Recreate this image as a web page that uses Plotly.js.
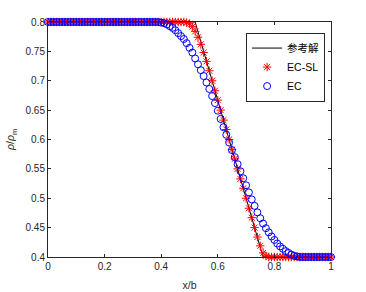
<!DOCTYPE html>
<html>
<head>
<meta charset="utf-8">
<script src="https://cdn.plot.ly/plotly-3.0.1.min.js"></script>
<style>html,body{margin:0;padding:0;background:#fff;}#chart{width:366px;height:292px;}</style>
</head>
<body>
<div id="chart"></div>
<script>
// grid positions x/b
var xGrid = [0,0.01,0.02,0.03,0.04,0.05,0.06,0.07,0.08,0.09,
  0.10,0.11,0.12,0.13,0.14,0.15,0.16,0.17,0.18,0.19,
  0.20,0.21,0.22,0.23,0.24,0.25,0.26,0.27,0.28,0.29,
  0.30,0.31,0.32,0.33,0.34,0.35,0.36,0.37,0.38,0.39,
  0.40,0.41,0.42,0.43,0.44,0.45,0.46,0.47,0.48,0.49,
  0.50,0.51,0.52,0.53,0.54,0.55,0.56,0.57,0.58,0.59,
  0.60,0.61,0.62,0.63,0.64,0.65,0.66,0.67,0.68,0.69,
  0.70,0.71,0.72,0.73,0.74,0.75,0.76,0.77,0.78,0.79,
  0.80,0.81,0.82,0.83,0.84,0.85,0.86,0.87,0.88,0.89,
  0.90,0.91,0.92,0.93,0.94,0.95,0.96,0.97,0.98,0.99,1.00];

// reference solution (参考解)
var xRef = [0, 0.52, 0.76, 1];
var yRef = [0.8, 0.8, 0.4, 0.4];

// EC-SL scheme
var yECSL = [0.8,0.8,0.8,0.8,0.8,0.8,0.8,0.8,0.8,0.8,
  0.8,0.8,0.8,0.8,0.8,0.8,0.8,0.8,0.8,0.8,
  0.8,0.8,0.8,0.8,0.8,0.8,0.8,0.8,0.8,0.8,
  0.8,0.8,0.8,0.8,0.8,0.8,0.8,0.8,0.8,0.8,
  0.8,0.8,0.8,0.8,0.8,0.8,0.8,0.8,0.8,0.799,
  0.797,0.792,0.784,0.774,0.762,0.748,0.733,0.717,0.700,0.683,
  0.667,0.650,0.633,0.617,0.600,0.583,0.567,0.550,0.533,0.517,
  0.500,0.483,0.467,0.450,0.434,0.419,0.407,0.402,0.400,0.4,
  0.4,0.4,0.4,0.4,0.4,0.4,0.4,0.4,0.4,0.4,
  0.4,0.4,0.4,0.4,0.4,0.4,0.4,0.4,0.4,0.4,0.4];

// EC scheme
var yEC = [0.8,0.8,0.8,0.8,0.8,0.8,0.8,0.8,0.8,0.8,
  0.8,0.8,0.8,0.8,0.8,0.8,0.8,0.8,0.8,0.8,
  0.8,0.8,0.8,0.8,0.8,0.8,0.8,0.8,0.8,0.8,
  0.8,0.8,0.8,0.8,0.8,0.8,0.8,0.8,0.8,0.8,
  0.799,0.798,0.796,0.793,0.790,0.786,0.781,0.776,0.771,0.764,
  0.756,0.748,0.738,0.728,0.718,0.708,0.697,0.686,0.674,0.662,
  0.649,0.635,0.621,0.608,0.595,0.582,0.570,0.558,0.546,0.534,
  0.522,0.510,0.498,0.487,0.476,0.466,0.457,0.449,0.442,0.435,
  0.429,0.423,0.418,0.414,0.410,0.407,0.404,0.402,0.401,0.400,
  0.4,0.4,0.4,0.4,0.4,0.4,0.4,0.4,0.4,0.4,0.4];

var seriesNames = ['参考解', 'EC-SL', 'EC'];
var xTickVals = [0, 0.2, 0.4, 0.6, 0.8, 1];
var xTickText = ['0', '0.2', '0.4', '0.6', '0.8', '1'];
var yTickVals = [0.4, 0.45, 0.5, 0.55, 0.6, 0.65, 0.7, 0.75, 0.8];
var yTickText = ['0.4', '0.45', '0.5', '0.55', '0.6', '0.65', '0.7', '0.75', '0.8'];

var axisColor = '#262626';
var fontFam = 'Liberation Sans, Arial, Noto Sans CJK SC, sans-serif';

var traces = [
  {x: xRef, y: yRef, name: seriesNames[0], type: 'scatter', mode: 'lines',
   line: {color: '#000000', width: 1}, cliponaxis: false},
  {x: xGrid, y: yECSL, name: seriesNames[1], type: 'scatter', mode: 'markers',
   marker: {symbol: 'asterisk-open', size: 7, color: '#ff0000', line: {color: '#ff0000', width: 1}},
   cliponaxis: false},
  {x: xGrid, y: yEC, name: seriesNames[2], type: 'scatter', mode: 'markers',
   marker: {symbol: 'circle-open', size: 7, color: '#0000ff', line: {color: '#0000ff', width: 1}},
   cliponaxis: false}
];

var axisCommon = {
  showline: true, linecolor: axisColor, linewidth: 1, mirror: 'allticks',
  ticks: 'inside', ticklen: 3, tickwidth: 1, tickcolor: axisColor,
  showgrid: false, zeroline: false, automargin: false,
  tickfont: {family: fontFam, size: 10, color: axisColor}
};

var layout = {
  width: 366, height: 292,
  margin: {l: 48, r: 35, t: 22, b: 35, pad: 0},
  paper_bgcolor: '#ffffff', plot_bgcolor: '#ffffff',
  showlegend: true,
  font: {family: fontFam, size: 10, color: axisColor},
  xaxis: Object.assign({}, axisCommon, {
    range: [0, 1], tickmode: 'array', tickvals: xTickVals, ticktext: xTickText,
    title: {text: 'x/b', font: {family: fontFam, size: 10.5, color: axisColor}, standoff: 10}
  }),
  yaxis: Object.assign({}, axisCommon, {
    range: [0.4, 0.8], tickmode: 'array', tickvals: yTickVals, ticktext: yTickText,
    title: {text: '<i>ρ</i>/<i>ρ</i><sub>m</sub>', font: {family: fontFam, size: 10.5, color: axisColor}, standoff: 8}
  }),
  legend: {
    x: 0.70, y: 0.955, xanchor: 'left', yanchor: 'top',
    bgcolor: '#ffffff', bordercolor: axisColor, borderwidth: 1,
    font: {family: fontFam, size: 10.5, color: '#000000'},
    tracegroupgap: 0
  }
};

Plotly.newPlot('chart', traces, layout, {staticPlot: true, displayModeBar: false});
</script>
</body>
</html>
